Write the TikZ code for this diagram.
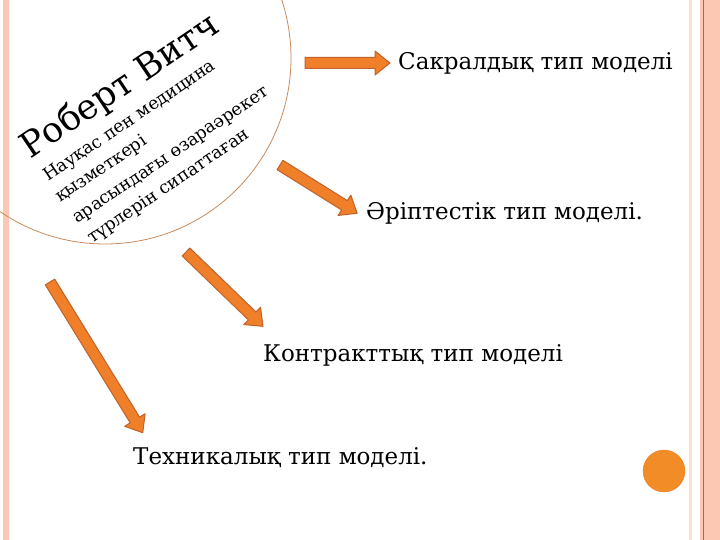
\documentclass[tikz,border=0pt]{standalone}
\usepackage{fontspec}
\setmainfont{DejaVu Serif}
\definecolor{aor}{HTML}{F07F2A}
\definecolor{aed}{HTML}{C0622A}
\definecolor{pale}{HTML}{FCC8B4}
\definecolor{arcc}{HTML}{C98A5A}
\tikzset{
 barr/.style={fill=aor, draw=aed, line width=1pt, line join=round},
 lab/.style={font=\fontsize{23}{26}\selectfont, anchor=west, inner sep=0pt},
 rot/.style={rotate=34, anchor=base west, inner sep=0pt, font=\fontsize{17.5}{20}\selectfont}
}
\newcommand{\blockarrow}[4]{% x,y,angle,length
 \begin{scope}[shift={(#1,#2)}, rotate=#3]
 \draw[barr] (0,-5.5) -- (#4-15,-5.5) -- (#4-15,-12) -- (#4,0) -- (#4-15,12) -- (#4-15,5.5) -- (0,5.5) -- cycle;
 \end{scope}}
\begin{document}
\begin{tikzpicture}[x=1pt,y=-1pt]
\useasboundingbox (0,0) rectangle (720,540);
\fill[white] (0,0) rectangle (720,540);
\fill[pale] (3,0) rectangle (9,540);
\fill[pale] (700,0) rectangle (720,540);
\fill[pale!60] (689,0) rectangle (692,540);
\draw[aed, line width=0.5pt] (703,0) -- (703,540);
\begin{scope}
\clip (0,0) rectangle (720,540);
\draw[arcc, line width=0.8pt] (105,58) circle[radius=186];
\end{scope}
\node[rot, font=\fontsize{35}{40}\selectfont] (n0) at (30,160) {Роберт Витч};
\node[rot] (n1) at (48,182) {Науқас пен медицина};
\node[rot] (n2) at (60,203) {қызметкері};
\node[rot] (n3) at (77,224) {арасындағы өзараәрекет};
\node[rot] (n4) at (92,244) {түрлерін сипаттаған};
\blockarrow{305}{63}{0}{85}
\blockarrow{280}{165}{-32}{91}
\blockarrow{186}{252}{-44}{107}
\blockarrow{50}{282}{-58.4}{177}
\node[lab] (t1) at (398,63) {Сакралдық тип моделі};
\node[lab] (t2) at (366,213) {Әріптестік тип моделі.};
\node[lab] (t3) at (263,355) {Контракттық тип моделі};
\node[lab] (t4) at (133,458) {Техникалық тип моделі.};
\node[circle, fill=aor!90!yellow, draw=aor, minimum size=42pt, inner sep=0pt] (c) at (664,471) {};
\end{tikzpicture}
\end{document}
